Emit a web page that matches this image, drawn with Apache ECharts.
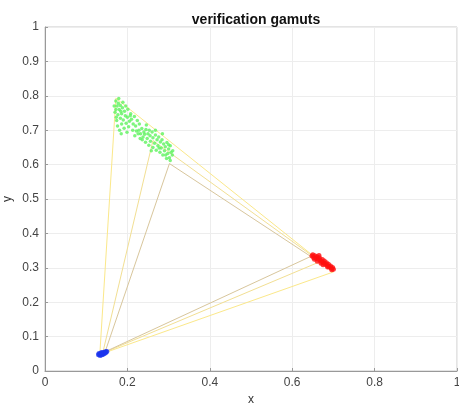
<!DOCTYPE html>
<html>
<head>
<meta charset="utf-8">
<script src="https://cdn.jsdelivr.net/npm/echarts@6/dist/echarts.min.js"></script>
<style>
  html, body { margin: 0; padding: 0; background: #fff; }
  #chart { width: 459px; height: 404px; }
</style>
</head>
<body>
<div id="chart"></div>
<script>
// measured primaries (scatter clusters)
var greenPts = [
  [0.172,0.785],[0.178,0.778],[0.175,0.770],[0.183,0.772],[0.180,0.760],[0.188,0.765],[0.170,0.752],
  [0.177,0.745],[0.186,0.748],[0.193,0.755],[0.195,0.742],[0.183,0.735],[0.174,0.728],[0.190,0.730],
  [0.200,0.738],[0.205,0.726],[0.197,0.720],[0.186,0.718],[0.210,0.732],[0.214,0.718],[0.203,0.710],
  [0.192,0.706],[0.220,0.712],[0.176,0.712],[0.181,0.700],[0.168,0.770],[0.172,0.760],[0.179,0.792],
  [0.189,0.781],[0.196,0.770],[0.201,0.761],[0.208,0.748],[0.217,0.740],[0.224,0.728],[0.229,0.718],
  [0.235,0.705],[0.240,0.695],[0.232,0.690],[0.245,0.702],[0.250,0.690],[0.238,0.680],[0.248,0.676],
  [0.255,0.684],[0.260,0.695],[0.262,0.678],[0.256,0.668],[0.244,0.665],[0.268,0.686],[0.272,0.672],
  [0.266,0.662],[0.252,0.656],[0.276,0.680],[0.280,0.666],[0.274,0.655],[0.262,0.650],[0.284,0.672],
  [0.288,0.660],[0.282,0.648],[0.270,0.642],[0.292,0.652],[0.296,0.664],[0.290,0.640],[0.300,0.645],
  [0.304,0.655],[0.298,0.632],[0.306,0.636],[0.286,0.628],[0.302,0.620],[0.310,0.640],[0.228,0.700],
  [0.236,0.672],[0.258,0.640],[0.279,0.636],[0.295,0.618],[0.304,0.612],[0.268,0.700],[0.285,0.690],
  [0.246,0.715],[0.226,0.690],[0.185,0.690],[0.199,0.694],[0.213,0.700],[0.218,0.684],[0.231,0.676],
  [0.173,0.738],[0.184,0.755],[0.207,0.742],[0.222,0.698],[0.242,0.688],[0.253,0.700],[0.277,0.648],
  [0.293,0.628],[0.309,0.628],[0.300,0.658]
];
var redPts = [
  [0.648,0.334],[0.652,0.330],[0.655,0.335],[0.658,0.328],[0.660,0.332],[0.663,0.325],[0.666,0.329],
  [0.668,0.322],[0.671,0.318],[0.673,0.324],[0.676,0.315],[0.678,0.320],[0.680,0.311],[0.683,0.315],
  [0.685,0.307],[0.688,0.310],[0.690,0.302],[0.693,0.305],[0.695,0.299],[0.698,0.301],[0.700,0.296],
  [0.654,0.325],[0.661,0.319],[0.670,0.313],[0.686,0.302],[0.696,0.294],[0.650,0.338],[0.665,0.336],
  [0.675,0.309]
];
var bluePts = [
  [0.130,0.047],[0.133,0.049],[0.136,0.051],[0.139,0.052],[0.142,0.053],[0.145,0.055],[0.148,0.056],
  [0.150,0.057],[0.134,0.045],[0.138,0.047],[0.141,0.049],[0.144,0.051],[0.147,0.053],[0.131,0.051],
  [0.137,0.054]
];

// gamut triangles: green, red, blue vertices
var gamutOuter = [[0.172,0.793],[0.700,0.288],[0.133,0.048]];
var gamutMid   = [[0.262,0.670],[0.668,0.318],[0.140,0.052]];
var gamutTan   = [[0.302,0.603],[0.645,0.333],[0.146,0.056]];

var chart = echarts.init(document.getElementById('chart'));

function triangle(pts, color) {
  return {
    type: 'line',
    data: pts.concat([pts[0]]),
    symbol: 'none',
    lineStyle: { color: color, width: 1 },
    silent: true,
    animation: false,
    z: 1
  };
}

function dots(pts, color, size) {
  return {
    type: 'scatter',
    data: pts,
    symbolSize: size,
    itemStyle: { color: color },
    animation: false,
    z: 3
  };
}

var font = 'Liberation Sans, Helvetica, Arial, sans-serif';

var option = {
  backgroundColor: '#fff',
  title: {
    text: 'verification gamuts',
    left: 251,
    textAlign: 'center',
    top: 8,
    textStyle: { fontSize: 14, fontWeight: 'bold', color: '#111', fontFamily: font }
  },
  grid: {
    left: 45, right: 2, top: 27, bottom: 33,
    outerBoundsMode: 'none',
    containLabel: false,
    show: true, borderColor: '#c8c8c8', borderWidth: 1
  },
  xAxis: {
    type: 'value', min: 0, max: 1, interval: 0.2,
    name: 'x', nameLocation: 'middle', nameGap: 23, nameMoveOverlap: false,
    nameTextStyle: { fontSize: 12, color: '#333', fontFamily: font },
    axisLine: { show: true, lineStyle: { color: '#999' } },
    axisTick: { show: true, inside: true, length: 3, lineStyle: { color: '#999' } },
    axisLabel: { fontSize: 12, color: '#444', fontFamily: font, margin: 6 },
    splitLine: { show: true, lineStyle: { color: '#ededed' } }
  },
  yAxis: {
    type: 'value', min: 0, max: 1, interval: 0.1,
    name: 'y', nameLocation: 'middle', nameGap: 31, nameRotate: 90, nameMoveOverlap: false,
    nameTextStyle: { fontSize: 12, color: '#333', fontFamily: font },
    axisLine: { show: true, lineStyle: { color: '#999' } },
    axisTick: { show: true, inside: true, length: 3, lineStyle: { color: '#999' } },
    axisLabel: { fontSize: 12, color: '#444', fontFamily: font, margin: 6 },
    splitLine: { show: true, lineStyle: { color: '#ededed' } }
  },
  series: [
    triangle(gamutOuter, '#fbe88a'),
    triangle(gamutMid, '#f2df93'),
    triangle(gamutTan, '#d8c69c'),
    dots(greenPts, '#5ef25e', 3.5),
    dots(redPts, '#ff1010', 5),
    dots(bluePts, '#1a33ee', 5)
  ]
};

chart.setOption(option);
</script>
</body>
</html>
